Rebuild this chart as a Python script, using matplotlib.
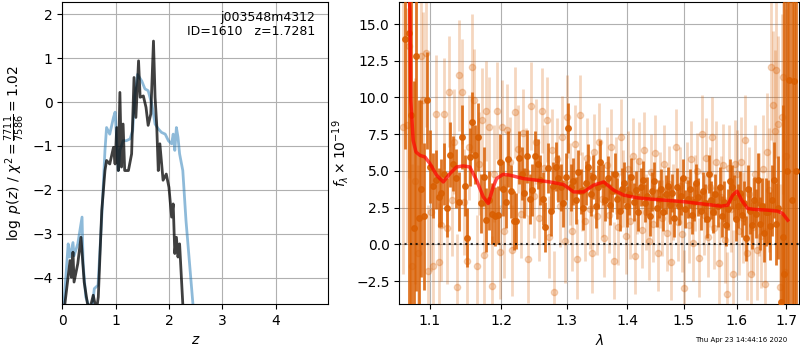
import matplotlib
matplotlib.use('Agg')
import matplotlib.pyplot as plt
from matplotlib.ticker import NullLocator

# --- left panel: log p(z) ---
z_fit = [-0.05, 0.03, 0.11, 0.14, 0.2, 0.22, 0.29, 0.32, 0.37, 0.39, 0.44, 0.5, 0.56, 0.6, 0.67,
         0.74, 0.8, 0.83, 0.89, 0.96, 0.99, 1.02, 1.05, 1.08, 1.14, 1.2, 1.27, 1.32, 1.36, 1.41,
         1.49, 1.55, 1.61, 1.68, 1.74, 1.8, 1.86, 1.93, 1.99, 2.05, 2.08, 2.11, 2.14, 2.17, 2.2,
         2.26, 2.32, 2.45, 2.52]
lnp_fit = [-5.0, -4.6, -3.23, -3.53, -3.2, -3.5, -3.23, -3.0, -2.62, -3.68, -4.44, -4.65, -4.7, -4.25, -4.17,
           -2.62, -1.1, -0.58, -0.73, -0.35, -0.23, -0.88, -1.56, -1.1, -0.88, -0.88, -0.84, -0.65, 0.14, 0.63,
           0.48, 0.3, 0.26, -0.05, -0.5, -0.61, -0.69, -0.73, -0.88, -0.95, -0.73, -1.1, -0.58, -0.8, -1.18,
           -1.56, -2.7, -4.6, -5.2]

z_pz = [0.0, 0.05, 0.145, 0.17, 0.2, 0.22, 0.29, 0.35, 0.41, 0.47, 0.52, 0.58, 0.64, 0.675, 0.74,
        0.8, 0.83, 0.89, 0.96, 0.99, 1.02, 1.05, 1.08, 1.11, 1.14, 1.17, 1.24, 1.3, 1.345, 1.38,
        1.43, 1.46, 1.52, 1.57, 1.61, 1.66, 1.71, 1.74, 1.77, 1.8, 1.83, 1.89, 1.95, 2.0, 2.05,
        2.08, 2.11, 2.14, 2.17, 2.2, 2.26, 2.3]
lnp_pz = [-5.0, -4.58, -3.61, -3.99, -3.42, -4.1, -3.68, -3.08, -4.1, -4.58, -4.7, -4.4, -4.75, -4.44, -2.47,
          -1.56, -1.33, -1.41, -1.03, -1.41, -0.58, -1.56, 0.22, -1.48, -0.5, -1.56, -1.56, -1.18, 0.56, -0.35,
          0.94, 0.11, 0.14, -0.12, -0.53, -0.27, 1.39, 0.11, -0.5, -1.56, -0.95, -1.78, -1.64, -1.94, -2.62,
          -2.32, -3.45, -3.08, -3.53, -3.23, -4.6, -5.2]

# --- right panel: spectrum ---
wl_dark = [1.068, 1.072, 1.075, 1.079, 1.082, 1.086, 1.089, 1.093, 1.096, 1.100, 1.104, 1.108, 1.112,
           1.116, 1.120, 1.124, 1.128, 1.132, 1.136, 1.140, 1.144, 1.148, 1.152, 1.155, 1.159, 1.163,
           1.167, 1.171, 1.175, 1.179, 1.183, 1.187, 1.191, 1.195, 1.199, 1.203, 1.207, 1.211, 1.215,
           1.219, 1.223, 1.227, 1.231, 1.235, 1.239, 1.243, 1.247, 1.251, 1.255, 1.259, 1.263, 1.267,
           1.271, 1.275, 1.279, 1.283, 1.287, 1.291, 1.295, 1.299, 1.303, 1.307, 1.311, 1.315, 1.319,
           1.323, 1.327, 1.331, 1.335, 1.339, 1.343, 1.347, 1.351, 1.355, 1.359, 1.363, 1.367, 1.371,
           1.375, 1.379, 1.383, 1.387, 1.391, 1.395, 1.399, 1.403, 1.407, 1.411, 1.415, 1.419, 1.423,
           1.427, 1.431, 1.435, 1.439, 1.443, 1.447, 1.451, 1.455, 1.459, 1.463, 1.467, 1.471, 1.475,
           1.479, 1.483, 1.487, 1.491, 1.495, 1.499, 1.503, 1.507, 1.511, 1.515, 1.519, 1.523, 1.527,
           1.531, 1.535, 1.539, 1.543, 1.547, 1.551, 1.555, 1.559, 1.563, 1.567, 1.571, 1.575, 1.579,
           1.583, 1.587, 1.591, 1.595, 1.599, 1.603, 1.607, 1.611, 1.615, 1.619, 1.623, 1.627, 1.631,
           1.635, 1.639, 1.643, 1.647, 1.651, 1.655, 1.659, 1.663, 1.667, 1.671, 1.675, 1.679, 1.683,
           1.688, 1.692, 1.696, 1.701, 1.706, 1.711, 1.716, 1.721]
fl_dark = [14.0, 14.4, 8.8, 1.1, 12.8, 1.8, 3.8, 1.9, 9.8, 5.3, 4.0, 4.4, 3.2,
           3.5, 4.8, 2.5, 6.1, 5.5, 4.5, 2.9, 7.3, 4.0, 0.45, 5.95, 8.3, 6.1,
           7.3, 2.8, 4.6, 1.65, 3.0, 2.1, 1.9, 2.0, 5.6, 3.8, 2.9, 5.8, 3.6,
           1.6, 1.6, 5.9, 4.8, 3.5, 6.0, 3.1, 3.7, 6.0, 5.5, 4.4, 3.1, 1.2,
           5.2, 2.3, 4.0, 5.3, 4.5, 3.9, 2.8, 4.6, 7.9, 3.9, 4.3, 3.0, 4.9,
           3.6, 2.5, 4.2, 5.3, 3.4, 4.6, 2.6, 3.9, 5.6, 4.1, 3.0, 4.5, 2.7,
           3.6, 4.8, 3.1, 2.3, 3.8, 4.2, 2.6, 3.4, 4.6, 2.9, 3.7, 2.2, 3.9,
           4.4, 2.8, 3.3, 1.9, 3.6, 4.3, 2.5, 3.1, 3.8, 2.2, 3.4, 4.0, 2.7,
           3.5, 1.8, 3.9, 2.6, 3.3, 4.5, 2.4, 3.1, 3.8, 2.0, 2.9, 4.2, 3.2,
           2.3, 3.6, 2.8, 1.7, 4.8, 3.0, 2.2, 3.4, 2.6, 3.9, 1.9, 2.9, 1.3,
           2.4, 4.3, 3.9, 3.2, 1.7, 2.6, 3.5, 2.0, 2.8, 0.4, 3.8, 2.3, 1.3,
           3.0, 2.1, 4.4, 1.4, 2.6, 0.8, 2.2, 2.2, 1.25, 3.0, 4.4, 1.4, 2.5,
           -3.9, 0.5, -2.0, 5.0, 11.2, 3.0, 11.15, 5.0]
er_dark = [7.5, 20, 14, 10, 16, 8, 6, 5, 3.3, 2.5, 2.2, 2.0, 2.0,
           2.3, 2.1, 2.0, 2.2, 1.9, 2.0, 2.0, 2.2, 2.1, 2.0, 2.0, 2.1, 2.0,
           2.3, 2.0, 2.0, 2.2, 2.0, 2.1, 2.0, 2.0, 1.9, 1.9, 1.8, 1.9, 1.8,
           2.0, 1.9, 1.8, 1.8, 1.7, 1.8, 1.7, 1.8, 1.7, 1.7, 1.7, 1.8, 1.7,
           1.7, 1.7, 1.6, 1.7, 1.6, 1.6, 1.6, 1.6, 1.7, 1.6, 1.6, 1.6, 1.5,
           1.5, 1.5, 1.5, 1.5, 1.5, 1.5, 1.5, 1.5, 1.5, 1.4, 1.4, 1.5, 1.4,
           1.4, 1.4, 1.4, 1.4, 1.4, 1.4, 1.4, 1.4, 1.3, 1.3, 1.3, 1.3, 1.3,
           1.3, 1.3, 1.3, 1.3, 1.3, 1.3, 1.3, 1.3, 1.3, 1.3, 1.3, 1.3, 1.3,
           1.3, 1.3, 1.3, 1.3, 1.3, 1.3, 1.3, 1.3, 1.3, 1.3, 1.3, 1.3, 1.3,
           1.3, 1.3, 1.3, 1.3, 1.3, 1.3, 1.4, 1.4, 1.4, 1.4, 1.4, 1.4, 1.4,
           1.4, 1.5, 1.5, 1.5, 1.5, 1.5, 1.5, 1.5, 1.5, 1.5, 1.6, 1.6, 1.6,
           1.6, 1.7, 1.8, 1.8, 1.9, 2.0, 2.3, 2.2, 2.3, 2.4, 2.6, 2.8, 3.5,
           6, 9, 20, 25, 25, 25, 25, 30]

wl_light = [1.065, 1.070, 1.073, 1.077, 1.081, 1.084, 1.088, 1.091, 1.095, 1.098, 1.102, 1.105, 1.109,
            1.112, 1.116, 1.119, 1.123, 1.126, 1.130, 1.133, 1.137, 1.140, 1.144, 1.147, 1.151, 1.154,
            1.158, 1.161, 1.165, 1.168, 1.172, 1.176, 1.179, 1.183, 1.187, 1.190, 1.194, 1.198, 1.201,
            1.205, 1.209, 1.213, 1.217, 1.221, 1.225, 1.229, 1.233, 1.237, 1.241, 1.245, 1.249, 1.253,
            1.257, 1.261, 1.265, 1.269, 1.273, 1.277, 1.281, 1.285, 1.289, 1.293, 1.297, 1.301, 1.305,
            1.309, 1.313, 1.317, 1.321, 1.325, 1.329, 1.333, 1.337, 1.341, 1.345, 1.349, 1.353, 1.357,
            1.361, 1.365, 1.369, 1.373, 1.377, 1.381, 1.385, 1.389, 1.393, 1.397, 1.401, 1.405, 1.409,
            1.413, 1.417, 1.421, 1.425, 1.429, 1.433, 1.437, 1.441, 1.445, 1.449, 1.453, 1.457, 1.461,
            1.465, 1.469, 1.473, 1.477, 1.481, 1.485, 1.489, 1.493, 1.497, 1.501, 1.505, 1.509, 1.513,
            1.517, 1.521, 1.525, 1.529, 1.533, 1.537, 1.541, 1.545, 1.549, 1.553, 1.557, 1.561, 1.565,
            1.569, 1.573, 1.577, 1.581, 1.585, 1.589, 1.593, 1.597, 1.601, 1.605, 1.609, 1.613, 1.617,
            1.621, 1.625, 1.629, 1.633, 1.637, 1.641, 1.645, 1.649, 1.653, 1.657, 1.661, 1.665, 1.669,
            1.672, 1.676, 1.679, 1.683, 1.686, 1.690, 1.693, 1.697, 1.700]
fl_light = [8.0, 8.1, 13.5, -1.5, 4.3, -0.6, 12.8, 9.8, 13.0, -1.8, 2.2, -1.5, 8.9,
            -1.2, 1.3, 8.9, 1.1, 10.4, 3.0, 7.0, -2.9, 11.5, 10.4, 2.9, -1.1, 6.6,
            12.1, 9.8, -1.5, 5.5, 8.5, -0.7, 9.1, 8.0, -2.85, 4.8, 9.1, -0.5, 8.0,
            0.9, 7.8, 5.6, -0.4, 9.0, 6.5, 2.1, 7.6, 4.9, -1.0, 9.4, 3.3, 7.0,
            1.8, 9.1, 5.2, 8.5, 0.5, 6.4, -3.25, 5.8, 2.6, 7.3, 0.2, 8.7, 4.1,
            0.9, 6.8, -1.0, 8.8, 3.6, 1.6, 5.9, 2.4, -0.6, 6.3, 1.9, 7.0, 3.1,
            0.4, 5.4, 2.0, 6.6, -1.1, 4.7, 1.2, 7.3, 3.8, 0.6, 5.1, 1.6, 6.0,
            -0.8, 3.3, 5.7, 1.0, 6.4, 2.2, 0.2, 4.9, 1.4, 6.2, -0.6, 3.7, 1.8,
            5.5, 0.8, 4.1, -1.2, 2.9, 6.6, 1.5, 4.0, 0.7, -3.0, 4.4, 1.3, 5.8,
            0.1, 3.5, 5.0, -0.9, 7.5, 2.0, 5.9, 0.5, 3.9, 7.3, 1.1, 5.6, -1.3,
            3.2, 5.4, 0.3, -3.4, 5.2, 2.4, -2.0, 5.5, 4.8, 0.9, 5.6, 1.8, 7.1,
            -0.6, 3.4, -2.0, 1.2, 4.8, -0.4, 2.7, 0.6, 5.1, -2.7, 6.3, 3.7, 12.1,
            9.5, 7.7, 11.9, 8.2, -2.9, 8.7, 11.4, -1.9, 6.0]
er_light = [10, 8, 9, 7, 7, 6, 6, 6, 5, 4.5, 4, 4, 4,
            4, 3.8, 3.8, 3.8, 3.8, 3.8, 3.6, 3.6, 3.8, 3.6, 3.6, 3.6, 3.6,
            3.6, 3.5, 3.5, 3.5, 3.5, 3.4, 3.4, 3.4, 3.4, 3.3, 3.3, 3.2, 3.2,
            3.2, 3.1, 3.1, 3.1, 3.1, 3.0, 3.0, 3.0, 3.0, 3.0, 3.0, 2.9, 2.9,
            2.9, 2.9, 2.9, 2.9, 2.8, 2.8, 2.8, 2.8, 2.8, 2.8, 2.8, 2.8, 2.8,
            2.7, 2.7, 2.7, 2.7, 2.7, 2.7, 2.7, 2.7, 2.7, 2.6, 2.6, 2.6, 2.6,
            2.6, 2.6, 2.6, 2.6, 2.6, 2.6, 2.6, 2.6, 2.6, 2.6, 2.6, 2.6, 2.6,
            2.6, 2.6, 2.6, 2.6, 2.6, 2.6, 2.6, 2.6, 2.6, 2.6, 2.6, 2.6, 2.6,
            2.6, 2.6, 2.6, 2.6, 2.6, 2.6, 2.6, 2.6, 2.6, 2.6, 2.6, 2.6, 2.6,
            2.6, 2.6, 2.6, 2.7, 2.7, 2.7, 2.7, 2.7, 2.7, 2.7, 2.8, 2.8, 2.8,
            2.8, 2.8, 2.9, 2.9, 2.9, 2.9, 3.0, 3.0, 3.0, 3.0, 3.1, 3.1, 3.1,
            3.2, 3.2, 3.2, 3.3, 3.3, 3.4, 3.5, 3.6, 3.7, 3.8, 4.0, 4.2, 5,
            5, 5.5, 6, 6, 7, 7, 8, 9, 10]

wl_model = [1.066, 1.0739, 1.0750, 1.0781, 1.0818, 1.0871, 1.0937, 1.1004, 1.1094, 1.1185, 1.1276,
            1.1368, 1.1460, 1.1553, 1.1648, 1.1743, 1.1815, 1.1887, 1.1937, 1.2034, 1.2132, 1.2332,
            1.2534, 1.2739, 1.2954, 1.3113, 1.3274, 1.3437, 1.3603, 1.3771, 1.3940, 1.4171, 1.4406,
            1.4644, 1.5009, 1.5380, 1.5697, 1.5825, 1.5922, 1.6006, 1.6098, 1.6216, 1.6348, 1.6617,
            1.6821, 1.6924, 1.7028]
fl_model = [22.0, 16.0, 9.8, 7.08, 6.29, 6.06, 5.95, 5.5, 4.71, 4.25, 4.82,
            5.27, 5.34, 5.27, 4.37, 3.24, 2.78, 3.91, 4.48, 4.77, 4.71, 4.48,
            4.37, 4.25, 4.07, 3.57, 3.57, 4.03, 4.25, 3.69, 3.35, 3.17, 3.08,
            3.01, 2.9, 2.74, 2.6, 2.67, 3.35, 3.62, 3.01, 2.44, 2.38, 2.33,
            2.26, 2.1, 1.65]

wl_ticks = [1.1, 1.2, 1.3, 1.4, 1.5, 1.6, 1.7]

orange = '#d95f02'

fig = plt.figure(figsize=(8, 3.5), dpi=100)
ax1 = fig.add_axes([0.0779, 0.1314, 0.3325, 0.8629])
ax2 = fig.add_axes([0.4991, 0.1314, 0.5, 0.8629])

ax1.plot(z_fit, lnp_fit, color='#1f77b4', alpha=0.5, lw=2)
ax1.plot(z_pz, lnp_pz, color='k', alpha=0.75, lw=2)
ax1.set_xlim(0, 4.99)
ax1.set_ylim(-4.6, 2.28)
ax1.set_xticks([0, 1, 2, 3, 4])
ax1.grid()
ax1.set_xlabel(r'$z$')
ax1.set_ylabel(r'$\log\ p(z)$ / $\chi^2=\frac{7711}{7586}=1.02$')
ax1.text(0.95, 0.97, 'j003548m4312\nID=1610   z=1.7281', transform=ax1.transAxes,
         ha='right', va='top', fontsize=9, linespacing=1.1)

ax2.errorbar(wl_light, fl_light, yerr=er_light, fmt='o', color=orange, alpha=0.25,
             markersize=4.5, lw=2, zorder=2)
ax2.errorbar(wl_dark, fl_dark, yerr=er_dark, fmt='o', color=orange, alpha=0.85,
             markersize=4, lw=2, zorder=3)
ax2.plot(wl_model, fl_model, color='r', alpha=0.7, lw=2.5, zorder=4)
ax2.axhline(0, color='k', linestyle=':', lw=1.5, alpha=0.8, zorder=5)
ax2.set_xscale('log')
ax2.set_xticks(wl_ticks, labels=[f'{w:.1f}' for w in wl_ticks])
ax2.xaxis.set_minor_locator(NullLocator())
ax2.set_xlim(1.060, 1.727)
ax2.set_ylim(-4.06, 16.5)
ax2.grid()
ax2.set_xlabel(r'$\lambda$')
ax2.set_ylabel(r'$f_\lambda\times10^{-19}$')

fig.text(0.984, 0.029, 'Thu Apr 23 14:44:16 2020', ha='right', va='center', fontsize=5)

fig.savefig('out.png', dpi=100)
